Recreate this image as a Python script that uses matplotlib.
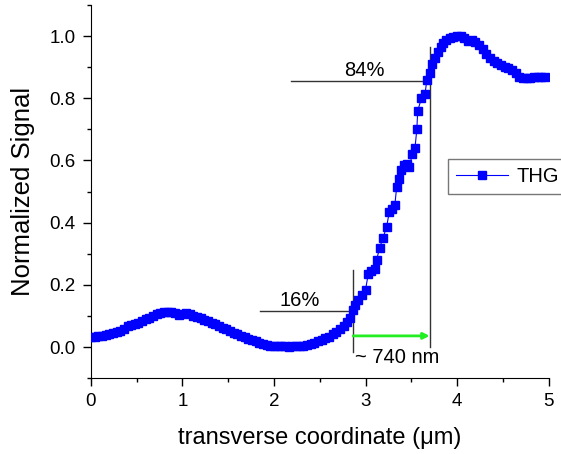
import matplotlib
matplotlib.use('Agg')
import matplotlib.pyplot as plt
from matplotlib.ticker import MultipleLocator

plt.rcParams['font.family'] = ['Liberation Sans', 'DejaVu Sans']

# THG line scan across the edge
x_um = [0.00, 0.04, 0.08, 0.12, 0.16, 0.20, 0.24, 0.28, 0.32, 0.36,
        0.40, 0.44, 0.48, 0.52, 0.56, 0.60, 0.64, 0.68, 0.72, 0.76,
        0.80, 0.84, 0.88, 0.92, 0.96, 1.00, 1.04, 1.08, 1.12, 1.16,
        1.20, 1.24, 1.28, 1.32, 1.36, 1.40, 1.44, 1.48, 1.52, 1.56,
        1.60, 1.64, 1.68, 1.72, 1.76, 1.80, 1.84, 1.88, 1.92, 1.96,
        2.00, 2.04, 2.08, 2.12, 2.16, 2.20, 2.24, 2.28, 2.32, 2.36,
        2.40, 2.44, 2.48, 2.52, 2.56, 2.60, 2.64, 2.68, 2.72, 2.76,
        2.80, 2.83, 2.86, 2.89, 2.92, 2.96, 3.00, 3.03, 3.06, 3.10,
        3.12, 3.155, 3.19, 3.23, 3.26, 3.29, 3.32, 3.34, 3.37, 3.39,
        3.42, 3.45, 3.48, 3.51, 3.54, 3.56, 3.57, 3.61, 3.65, 3.67,
        3.70, 3.73, 3.76, 3.79, 3.82, 3.85, 3.88, 3.92, 3.96, 4.00,
        4.04, 4.08, 4.12, 4.16, 4.20, 4.24, 4.28, 4.32, 4.36, 4.40,
        4.44, 4.48, 4.52, 4.56, 4.60, 4.64, 4.68, 4.72, 4.76, 4.80,
        4.84, 4.88, 4.92, 4.96]
signal = [0.033, 0.034, 0.035, 0.037, 0.038, 0.041, 0.044, 0.048, 0.053, 0.058,
          0.068, 0.071, 0.073, 0.078, 0.084, 0.090, 0.094, 0.100, 0.106, 0.109,
          0.112, 0.113, 0.112, 0.108, 0.103, 0.106, 0.110, 0.105, 0.099, 0.096,
          0.092, 0.088, 0.084, 0.079, 0.074, 0.068, 0.062, 0.057, 0.052, 0.046,
          0.041, 0.036, 0.031, 0.026, 0.022, 0.018, 0.014, 0.010, 0.007, 0.005,
          0.004, 0.003, 0.002, 0.002, 0.001, 0.002, 0.002, 0.003, 0.005, 0.007,
          0.010, 0.014, 0.018, 0.023, 0.028, 0.034, 0.041, 0.049, 0.058, 0.068,
          0.080, 0.095, 0.118, 0.135, 0.150, 0.168, 0.185, 0.235, 0.245, 0.250,
          0.280, 0.320, 0.350, 0.387, 0.435, 0.445, 0.457, 0.515, 0.540, 0.570,
          0.585, 0.590, 0.580, 0.620, 0.640, 0.700, 0.760, 0.800, 0.815, 0.860,
          0.880, 0.910, 0.930, 0.950, 0.965, 0.978, 0.987, 0.993, 0.996, 0.999,
          1.000, 0.995, 0.984, 0.987, 0.980, 0.970, 0.958, 0.944, 0.930, 0.920,
          0.913, 0.908, 0.902, 0.897, 0.890, 0.880, 0.870, 0.866, 0.864, 0.866,
          0.870, 0.868, 0.867, 0.870]

# 16% / 84% markers and edge width
x16, y16 = 2.865, 0.115
x84, y84 = 3.70, 0.855
width_label = '~ 740 nm'

fig = plt.figure(figsize=(5.61, 4.54), dpi=100)
ax = fig.add_axes([0.162, 0.167, 0.816, 0.822])

ax.plot(x_um, signal, color='#0000ff', lw=0.8, marker='s', ms=6,
        mec='#0000ff', mfc='#0000ff', label='THG', zorder=3)

# guide lines
ax.plot([1.845, x16], [y16, y16], color='#333333', lw=1)
ax.plot([x16, x16], [-0.016, 0.247], color='#333333', lw=1)
ax.plot([2.19, x84], [y84, y84], color='#333333', lw=1)
ax.plot([x84, x84], [0.0, 0.966], color='#333333', lw=1)
ax.annotate('', xy=(x84, 0.036), xytext=(x16, 0.036),
            arrowprops=dict(arrowstyle='-|>', color='#22ee22', lw=2,
                            mutation_scale=9, shrinkA=0, shrinkB=0))

ax.text(2.28, 0.15, '16%', fontsize=14.5, ha='center', va='center')
ax.text(2.99, 0.89, '84%', fontsize=14.5, ha='center', va='center')
ax.text(2.88, -0.033, width_label, fontsize=14.5, ha='left', va='center')

ax.set_xlim(0, 5)
ax.set_ylim(-0.1, 1.1)
ax.set_xticks([0, 1, 2, 3, 4, 5])
ax.set_yticks([0.0, 0.2, 0.4, 0.6, 0.8, 1.0])
ax.xaxis.set_minor_locator(MultipleLocator(0.5))
ax.yaxis.set_minor_locator(MultipleLocator(0.1))
ax.tick_params(which='major', direction='out', length=6, width=1, labelsize=13.5, pad=5)
ax.tick_params(which='minor', direction='out', length=3, width=1)
for side in ['top', 'right']:
    ax.spines[side].set_visible(False)

ax.set_xlabel('transverse coordinate (\u03bcm)', fontsize=17, labelpad=12)
ax.set_ylabel('Normalized Signal', fontsize=18.5, labelpad=10)

leg = ax.legend(loc='upper left', bbox_to_anchor=(0.78, 0.587), fontsize=14.5,
                frameon=True, fancybox=False, edgecolor='#555555',
                handlelength=2.6, handletextpad=0.4, borderpad=0.4,
                borderaxespad=0)
leg.get_frame().set_linewidth(1)

fig.savefig('out.png', dpi=100)
